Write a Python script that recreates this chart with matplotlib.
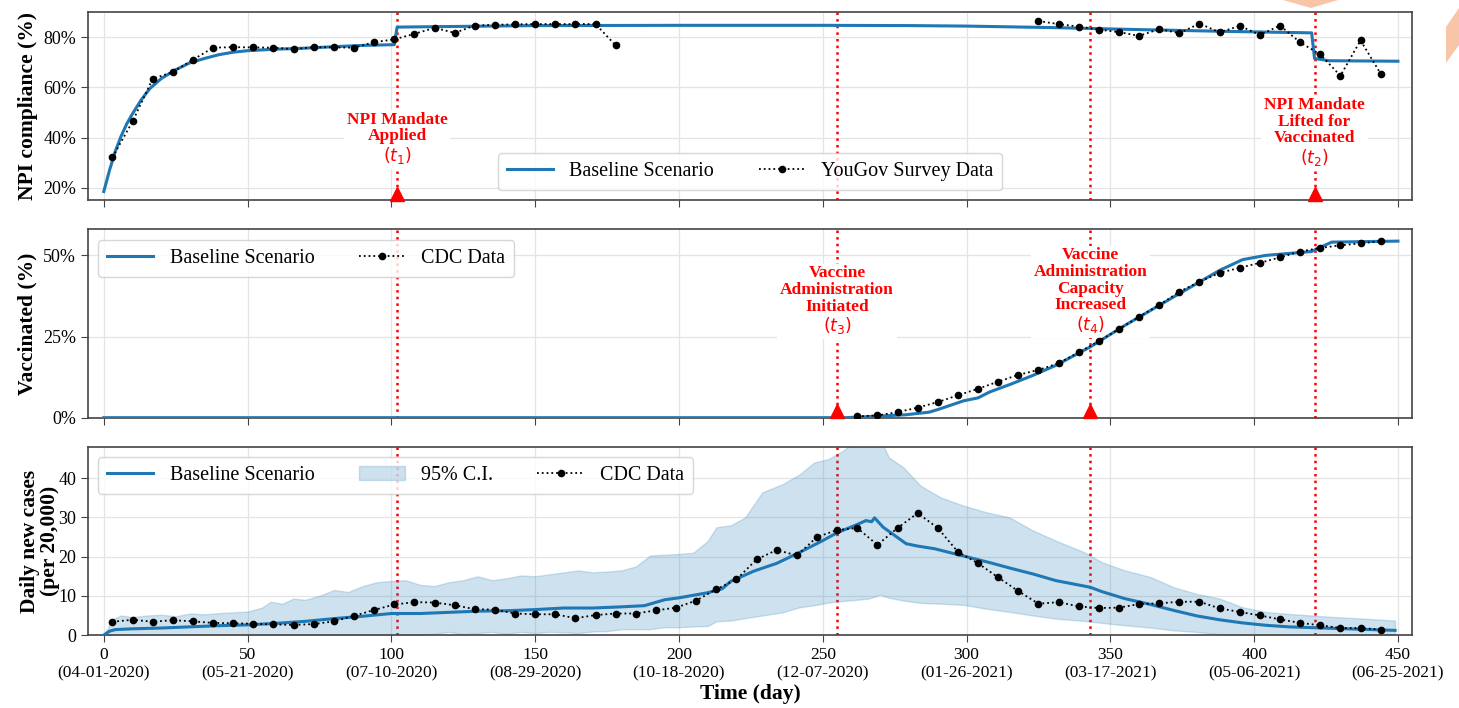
import matplotlib
matplotlib.use('Agg')
import matplotlib.pyplot as plt
import matplotlib.transforms as mtransforms
from matplotlib.patches import Polygon
from matplotlib.ticker import FuncFormatter

plt.rcParams['font.family'] = ['Liberation Serif', 'DejaVu Serif']
plt.rcParams['mathtext.fontset'] = 'dejavusans'

nan = float('nan')

# --- NPI compliance (top) ---
npi_model_day = [0, 2, 4, 6, 8, 10, 13, 16, 20, 25, 30, 35, 40, 45, 50, 60, 70, 80, 90, 101,
                 102, 150, 200, 250, 280, 300, 330, 360, 390, 420, 421, 426, 450]
npi_model_val = [18.5, 27, 34.5, 40.5, 45.5, 49.5, 55, 59.5, 63.5, 67, 69.8, 71.5, 73, 74, 74.6,
                 75.2, 75.6, 76.2, 76.7, 77.0, 84.0, 84.6, 84.7, 84.7, 84.6, 84.4, 83.8, 83.0,
                 82.3, 81.7, 71.5, 70.6, 70.4]
npi_survey_day = [3, 10, 17, 24, 31, 38, 45, 52, 59, 66, 73, 80, 87, 94, 101, 108, 115, 122, 129,
                  136, 143, 150, 157, 164, 171, 178, 250,
                  325, 332, 339, 346, 353, 360, 367, 374, 381, 388, 395, 402, 409, 416, 423, 430,
                  437, 444]
npi_survey_val = [32.1, 46.4, 63.4, 66.1, 71.0, 75.8, 76.0, 75.9, 75.8, 75.2, 76.0, 75.9, 75.8,
                  78.0, 79.1, 81.3, 83.7, 81.7, 84.6, 84.9, 85.1, 85.2, 85.2, 85.2, 85.2, 76.7, nan,
                  86.4, 85.2, 84.2, 83.0, 82.0, 80.5, 83.2, 81.6, 85.4, 81.9, 84.5, 80.9, 84.6,
                  77.9, 73.1, 64.6, 78.7, 65.4]

# --- Vaccinated (middle) ---
vax_model_day = [0, 258, 265, 279, 287, 290, 292, 299, 304, 308, 315, 323, 331, 343, 355, 372,
                 388, 396, 404, 420, 422, 427, 450]
vax_model_val = [0, 0, 0.3, 0.9, 1.7, 2.5, 3.1, 5.2, 6.1, 7.9, 10.2, 13.0, 16.1, 21.8, 28.4,
                 37.2, 45.4, 48.7, 50.0, 51.2, 52.1, 54.1, 54.4]
vax_cdc_day = [262, 269, 276, 283, 290, 297, 304, 311, 318, 325, 332, 339, 346, 353, 360, 367,
               374, 381, 388, 395, 402, 409, 416, 423, 430, 437, 444]
vax_cdc_val = [0.4, 0.7, 1.7, 3.1, 4.8, 6.9, 8.9, 11.1, 13.2, 14.7, 16.8, 20.1, 23.6, 27.3, 31.1,
               34.7, 38.8, 41.9, 44.6, 46.2, 47.7, 49.4, 51.2, 52.3, 53.1, 53.7, 54.4]

# --- Daily new cases (bottom) ---
cases_model_day = [0, 2, 4, 10, 20, 30, 40, 50, 60, 70, 80, 90, 100, 110, 120, 130, 140, 150,
                   160, 170, 180, 188, 195, 200, 210, 215, 218, 226, 234, 242, 250, 255, 262,
                   265, 267, 268, 271, 275, 279, 283, 289, 296, 302, 309, 315, 323, 331, 343,
                   347, 355, 364, 372, 380, 388, 396, 404, 412, 420, 428, 436, 449]
cases_model_val = [0, 1.0, 1.4, 1.6, 1.8, 2.1, 2.4, 2.6, 3.0, 3.5, 4.2, 4.8, 5.5, 5.5, 5.8, 6.1,
                   6.2, 6.5, 6.9, 6.9, 7.2, 7.5, 9.0, 9.5, 10.8, 11.8, 13.7, 16.3, 18.3, 21.1,
                   24.1, 26.1, 28.2, 29.2, 28.9, 29.9, 27.5, 25.4, 23.3, 22.7, 22.0, 20.7, 19.6,
                   18.3, 17.1, 15.6, 13.9, 12.2, 11.1, 9.3, 7.8, 6.3, 4.9, 3.9, 3.1, 2.5, 2.1,
                   1.9, 1.7, 1.5, 1.2]
ci_day = [0, 3, 6, 10, 15, 20, 25, 30, 35, 40, 45, 50, 55, 58, 62, 66, 70, 75, 80, 85, 90, 95,
          100, 105, 110, 115, 120, 125, 130, 135, 140, 145, 150, 155, 160, 165, 170, 175, 180,
          185, 190, 195, 200, 205, 210, 213, 218, 223, 229, 236, 242, 247, 252, 257, 262, 266,
          270, 273, 278, 284, 291, 299, 307, 315, 323, 331, 341, 347, 355, 364, 372, 380, 388,
          396, 404, 412, 420, 428, 436, 449]
ci_high = [0, 4.0, 5.0, 4.6, 5.0, 5.2, 4.8, 5.5, 5.3, 5.6, 5.8, 6.0, 7.0, 8.5, 8.0, 9.3, 9.0,
           10.0, 11.5, 11.0, 12.5, 13.5, 13.8, 14.0, 12.8, 12.5, 13.5, 14.0, 15.0, 14.0, 14.5,
           15.2, 15.0, 15.5, 16.0, 16.5, 16.0, 16.2, 16.5, 17.5, 20.3, 20.5, 20.7, 21.0, 24.0,
           27.5, 28.0, 30.0, 36.4, 38.5, 41.0, 44.0, 44.9, 47.0, 50.0, 52.0, 50.0, 45.3, 42.8,
           38.1, 35.1, 33.0, 31.3, 30.0, 26.7, 24.1, 21.1, 18.6, 16.5, 14.8, 12.2, 10.5, 9.3,
           7.1, 5.9, 5.4, 5.0, 4.6, 4.3, 3.7]
ci_low = [0, 0, 0, 0, 0, 0, 0, 0, 0, 0, 0, 0, 0, 0, 0, 0, 0, 0, 0, 0, 0, 0, 0, 0, 0,
          0.3, 0.8, 0.2, 0.5, 0.8, 0.3, 0.8, 0.5, 0.8, 0.7, 0.5, 0.9, 1.0, 1.5, 1.5,
          1.5, 2.0, 2.0, 2.2, 2.3, 3.5, 3.7, 4.3, 5.0, 5.8, 7.1, 7.6, 8.3, 8.7, 9.0, 9.3,
          10.3, 9.5, 8.8, 8.2, 8.0, 7.7, 6.7, 5.9, 5.0, 4.2, 3.6, 3.1, 2.5, 1.9,
          1.2, 0.8, 0.2, 0, 0, 0, 0, 0, 0, 0]
cases_cdc_day = list(range(3, 445, 7))
cases_cdc_val = [3.4, 3.9, 3.4, 3.8, 3.5, 3.1, 3.0, 2.9, 2.7, 2.6, 2.8, 3.5, 4.9, 6.4, 7.8, 8.4,
                 8.3, 7.6, 6.6, 6.5, 5.5, 5.3, 5.3, 4.3, 5.1, 5.5, 5.5, 6.3, 7.0, 8.8, 11.7,
                 14.2, 19.3, 21.7, 20.3, 25.0, 26.8, 27.3, 23.0, 27.3, 31.1, 27.3, 21.2, 18.3,
                 14.7, 11.2, 8.0, 8.4, 7.3, 6.9, 7.0, 7.9, 8.1, 8.5, 8.5, 6.8, 5.9, 5.0, 4.0,
                 3.1, 2.5, 1.8, 1.8, 1.4]

# events
event_days = [102, 421, 255, 343]
event_labels = ['NPI Mandate\nApplied\n$(t_1)$',
                'NPI Mandate\nLifted for\nVaccinated\n$(t_2)$',
                'Vaccine\nAdministration\nInitiated\n$(t_3)$',
                'Vaccine\nAdministration\nCapacity\nIncreased\n$(t_4)$']

xtick_days = [0, 50, 100, 150, 200, 250, 300, 350, 400, 450]
xtick_dates = ['04-01-2020', '05-21-2020', '07-10-2020', '08-29-2020', '10-18-2020',
               '12-07-2020', '01-26-2021', '03-17-2021', '05-06-2021', '06-25-2021']

blue = '#1f77b4'
fig, axes = plt.subplots(3, 1, figsize=(14.59, 7.08), dpi=100, sharex=True)
fig.subplots_adjust(left=0.0603, right=0.968, top=0.983, bottom=0.103, hspace=0.155)

data_kw = dict(color='black', ls=':', lw=1.3, marker='o', markersize=4.5)
leg_kw = dict(fontsize=14.5, handlelength=2.3, columnspacing=2.2, borderpad=0.45)

for ax in axes:
    ax.grid(True, color='#e4e4e4', lw=0.9)
    ax.set_axisbelow(True)
    for s in ax.spines.values():
        s.set_color('#444444')
        s.set_linewidth(1.2)
    ax.tick_params(labelsize=13, length=5, color='#444444')
    for d in event_days:
        ax.axvline(d, color='red', ls=':', lw=1.8, zorder=1)

# top
ax = axes[0]
ax.plot(npi_model_day, npi_model_val, color=blue, lw=2.2, label='Baseline Scenario', zorder=3)
ax.plot(npi_survey_day, npi_survey_val, label='YouGov Survey Data', zorder=4, **data_kw)
ax.set_ylim(15, 90)
ax.set_yticks([20, 40, 60, 80])
ax.yaxis.set_major_formatter(FuncFormatter(lambda v, p: f'{v:.0f}%'))
ax.set_ylabel('NPI compliance (%)', fontsize=15.5, fontweight='bold')
ax.legend(loc='lower center', ncol=2, **leg_kw)

# middle
ax = axes[1]
ax.plot(vax_model_day, vax_model_val, color=blue, lw=2.2, label='Baseline Scenario', zorder=3)
ax.plot(vax_cdc_day, vax_cdc_val, label='CDC Data', zorder=4, **data_kw)
ax.set_ylim(0, 58)
ax.set_yticks([0, 25, 50])
ax.yaxis.set_major_formatter(FuncFormatter(lambda v, p: f'{v:.0f}%'))
ax.set_ylabel('Vaccinated (%)', fontsize=15.5, fontweight='bold')
ax.legend(loc='upper left', ncol=2, **leg_kw)

# bottom
ax = axes[2]
ax.fill_between(ci_day, ci_low, ci_high, facecolor=(0.12, 0.47, 0.71, 0.22),
                edgecolor=(0.12, 0.47, 0.71, 0.2), lw=1, label='95% C.I.', zorder=2)
ax.plot(cases_model_day, cases_model_val, color=blue, lw=2.2, label='Baseline Scenario', zorder=3)
ax.plot(cases_cdc_day, cases_cdc_val, label='CDC Data', zorder=4, **data_kw)
ax.set_ylim(0, 48)
ax.set_yticks([0, 10, 20, 30, 40])
ax.set_ylabel('Daily new cases\n(per 20,000)', fontsize=15.5, fontweight='bold',
              linespacing=1.0, labelpad=-1)
h, l = ax.get_legend_handles_labels()
ax.legend([h[1], h[0], h[2]], [l[1], l[0], l[2]], loc='upper left', ncol=3, **leg_kw)
ax.set_xlim(-5.5, 455)
ax.set_xticks(xtick_days)
ax.set_xticklabels([f'{d}\n({s})' for d, s in zip(xtick_days, xtick_dates)], fontsize=12.5)
ax.set_xlabel('Time (day)', fontsize=15.5, fontweight='bold', labelpad=2)

# event annotations (white box hides grid and red line, data drawn above)
ann_kw = dict(color='red', fontsize=12.5, fontweight='bold', ha='center', va='center',
              linespacing=1.05, zorder=2.5,
              bbox=dict(facecolor='white', edgecolor='none', pad=2))
axes[0].text(event_days[0], 39.5, event_labels[0], **ann_kw)
axes[0].text(event_days[1], 42, event_labels[1], **ann_kw)
axes[1].text(event_days[2], 36, event_labels[2], **ann_kw)
axes[1].text(event_days[3], 39, event_labels[3], **ann_kw)

for ax, days in [(axes[0], [event_days[0], event_days[1]]), (axes[1], [event_days[2], event_days[3]])]:
    tr = mtransforms.offset_copy(ax.get_xaxis_transform(), fig=fig, y=4.5, units='points')
    for d in days:
        ax.plot(d, 0, marker='^', color='red', markersize=9.5, transform=tr,
                clip_on=False, zorder=6)

# background decoration in top-right corner
fig.patches.append(Polygon([[1283, 708], [1338, 708], [1311, 700]], closed=True,
                           transform=None, facecolor='#f8c5a8', edgecolor='none'))
fig.patches.append(Polygon([[1459, 700], [1446, 681], [1446, 645], [1459, 663]], closed=True,
                           transform=None, facecolor='#f8c5a8', edgecolor='none'))

fig.savefig('out.png', dpi=100)
